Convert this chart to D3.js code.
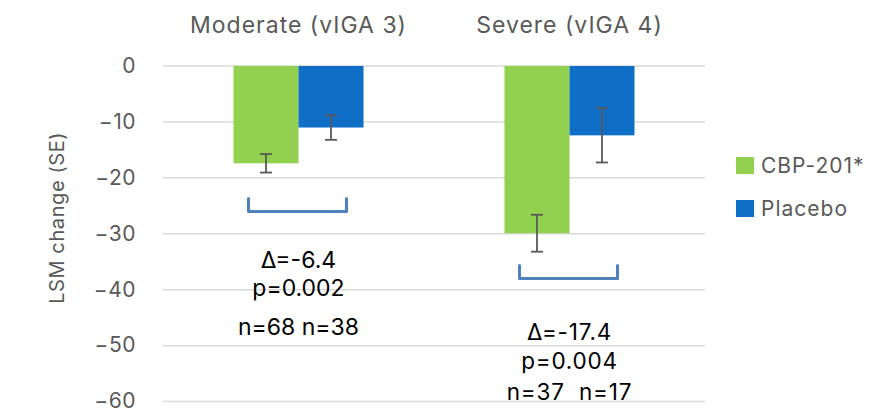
<!DOCTYPE html>
<html>
<head>
<meta charset="utf-8">
<script src="https://cdn.jsdelivr.net/npm/d3@7"></script>
<style>
body{margin:0;background:#fff;}
text{font-family:Inter,"Noto Sans",sans-serif;}
</style>
</head>
<body>
<script>
const w=880;
const h=410;

// data
const categories=["Moderate (vIGA 3)","Severe (vIGA 4)"];
const seriesNames=["CBP-201*","Placebo"];
const cbp=[-17.4,-29.9];
const cbpSE=[1.65,3.3];
const placebo=[-11.0,-12.4];
const placeboSE=[2.2,4.85];
const yTicks=[0,-10,-20,-30,-40,-50,-60];
const bracketLevel=[-26,-38];
const notes=[["Δ=-6.4","p=0.002","n=68 n=38"],["Δ=-17.4","p=0.004","n=37  n=17"]];
const noteTop=[-36.2,-48.9];

const colors=["#92d050","#0f6fc6"];

let svg=d3.select("body").append("svg")
  .attr("width",w)
  .attr("height",h);

const pLeft=163, pRight=705, pTop=66, pBottom=401.6;

let x=d3.scaleBand().domain(categories).range([pLeft,pRight]);
let xs=d3.scaleBand().domain(seriesNames).range([0,130]);
let y=d3.scaleLinear().domain([0,-60]).range([pTop,pBottom]);

// gridlines
svg.append("g").selectAll("line")
  .data(yTicks).enter().append("line")
  .attr("x1",pLeft).attr("x2",pRight)
  .attr("y1",d=>y(d)).attr("y2",d=>y(d))
  .attr("stroke","#d9d9d9").attr("stroke-width",1.5);

// y axis labels
let yAxis=d3.axisLeft(y).tickValues(yTicks).tickSize(0).tickPadding(0).tickFormat(d3.format("d"));
let ya=svg.append("g").attr("transform","translate(136,0)").call(yAxis);
ya.select(".domain").remove();
ya.selectAll("text").attr("font-family","Inter,sans-serif").attr("font-size",21).attr("fill","#595959")
  .attr("letter-spacing",0.5)
  .text(d=>d==0?"0":"\u2212"+Math.abs(d)).attr("dy","0.3em");

svg.append("text")
  .attr("transform","translate(64,"+((pTop+pBottom)/2-16)+") rotate(-90)")
  .attr("text-anchor","middle")
  .attr("font-size",20).attr("letter-spacing",0.6).attr("fill","#595959")
  .text("LSM change (SE)");

// category titles
svg.selectAll(".cat").data(categories).enter().append("text")
  .attr("x",d=>x(d)+x.bandwidth()/2).attr("y",33)
  .attr("text-anchor","middle").attr("font-size",23).attr("letter-spacing",1).attr("fill","#595959")
  .text(d=>d);

let rows=categories.map((c,i)=>[
  {cat:c,s:seriesNames[0],v:cbp[i],se:cbpSE[i]},
  {cat:c,s:seriesNames[1],v:placebo[i],se:placeboSE[i]}
]).flat();

const gx=d=>x(d.cat)+x.bandwidth()/2-65+xs(d.s);

svg.selectAll(".bar").data(rows).enter().append("rect")
  .attr("x",d=>gx(d)).attr("width",xs.bandwidth())
  .attr("y",y(0)).attr("height",d=>y(d.v)-y(0))
  .attr("fill",(d,i)=>colors[i%2]);

// error bars
let eb=svg.selectAll(".err").data(rows).enter().append("g").attr("stroke","#595959").attr("stroke-width",1.8);
eb.append("line").attr("x1",d=>gx(d)+xs.bandwidth()/2).attr("x2",d=>gx(d)+xs.bandwidth()/2)
  .attr("y1",d=>y(d.v+d.se)).attr("y2",d=>y(d.v-d.se));
eb.append("line").attr("x1",d=>gx(d)+xs.bandwidth()/2-6).attr("x2",d=>gx(d)+xs.bandwidth()/2+6)
  .attr("y1",d=>y(d.v+d.se)).attr("y2",d=>y(d.v+d.se));
eb.append("line").attr("x1",d=>gx(d)+xs.bandwidth()/2-6).attr("x2",d=>gx(d)+xs.bandwidth()/2+6)
  .attr("y1",d=>y(d.v-d.se)).attr("y2",d=>y(d.v-d.se));

// brackets
svg.selectAll(".br").data(categories).enter().append("path")
  .attr("d",(d,i)=>{
    let cx=x(d)+x.bandwidth()/2, b=y(bracketLevel[i]);
    return "M"+(cx-50)+","+(b-13)+"V"+b+"H"+(cx+48)+"V"+(b-13);
  })
  .attr("fill","none").attr("stroke","#4f81bd").attr("stroke-width",3).attr("stroke-linejoin","round").attr("stroke-linecap","round");

// notes
const lineGap=[[0,28,67],[0,29,60]];
categories.forEach((c,i)=>{
  let cx=x(c)+x.bandwidth()/2;
  svg.append("g").selectAll("text").data(notes[i]).enter().append("text")
    .attr("x",cx).attr("y",(d,j)=>y(noteTop[i])+lineGap[i][j])
    .attr("text-anchor","middle").attr("font-size",i==0?23:22.5).attr("fill","#000")
    .attr("letter-spacing",i==0?0:0.8)
    .style("white-space","pre")
    .attr("font-family",i==0?"'Liberation Sans',Arial,sans-serif":"Inter,sans-serif")
    .text(d=>d);
});

// legend
let lg=svg.append("g").selectAll("g").data(seriesNames).enter().append("g")
  .attr("transform",(d,i)=>"translate(736,"+(157+i*43)+")");
lg.append("rect").attr("width",18).attr("height",17).attr("fill",(d,i)=>colors[i]);
lg.append("text").attr("x",25).attr("y",16).attr("font-size",21).attr("letter-spacing",1).attr("fill","#595959").text(d=>d);
</script>
</body>
</html>
